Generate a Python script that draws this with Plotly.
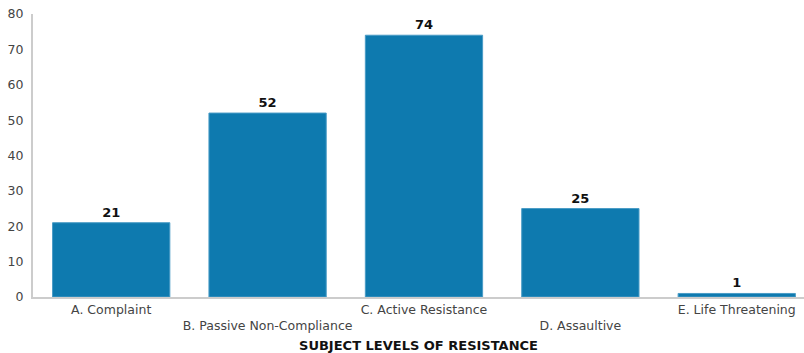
import plotly.graph_objects as go

categories = ["A. Complaint", "B. Passive Non-Compliance", "C. Active Resistance",
              "D. Assaultive", "E. Life Threatening"]
counts = [21, 52, 74, 25, 1]
y_ticks = [0, 10, 20, 30, 40, 50, 60, 70, 80]

# alternate label rows so the long category names do not collide
tick_text = [c if i % 2 == 0 else "<br>" + c for i, c in enumerate(categories)]

fig = go.Figure(go.Bar(
    x=categories,
    y=counts,
    text=[str(v) for v in counts],
    textposition="outside",
    cliponaxis=False,
    textfont=dict(family="DejaVu Sans", size=13, color="#111111", weight="bold"),
    marker=dict(color="#0e7aaf", line=dict(color="#4a9cc6", width=1)),
    width=0.75,
))

fig.update_layout(
    width=804, height=353,
    margin=dict(l=33, r=0, t=14, b=56),
    paper_bgcolor="white", plot_bgcolor="white",
    showlegend=False,
    font=dict(family="DejaVu Sans", size=12.5, color="#444444"),
    xaxis=dict(
        range=[-0.5, 4.43],
        tickmode="array", tickvals=categories, ticktext=tick_text,
        showgrid=False, showline=True, linecolor="#cccccc", linewidth=2,
        ticks="", tickfont=dict(size=12.5, color="#444444"),
        title=dict(text="<b>SUBJECT LEVELS OF RESISTANCE</b>",
                   font=dict(size=13, color="#111111"), standoff=10),
    ),
    yaxis=dict(
        range=[0, 80], tickvals=y_ticks,
        showgrid=False, showline=True, linecolor="#cccccc", linewidth=2,
        zeroline=False, ticks="", ticklabelstandoff=5,
        tickfont=dict(size=12.5, color="#444444"),
    ),
)

fig.write_html("out.html")
